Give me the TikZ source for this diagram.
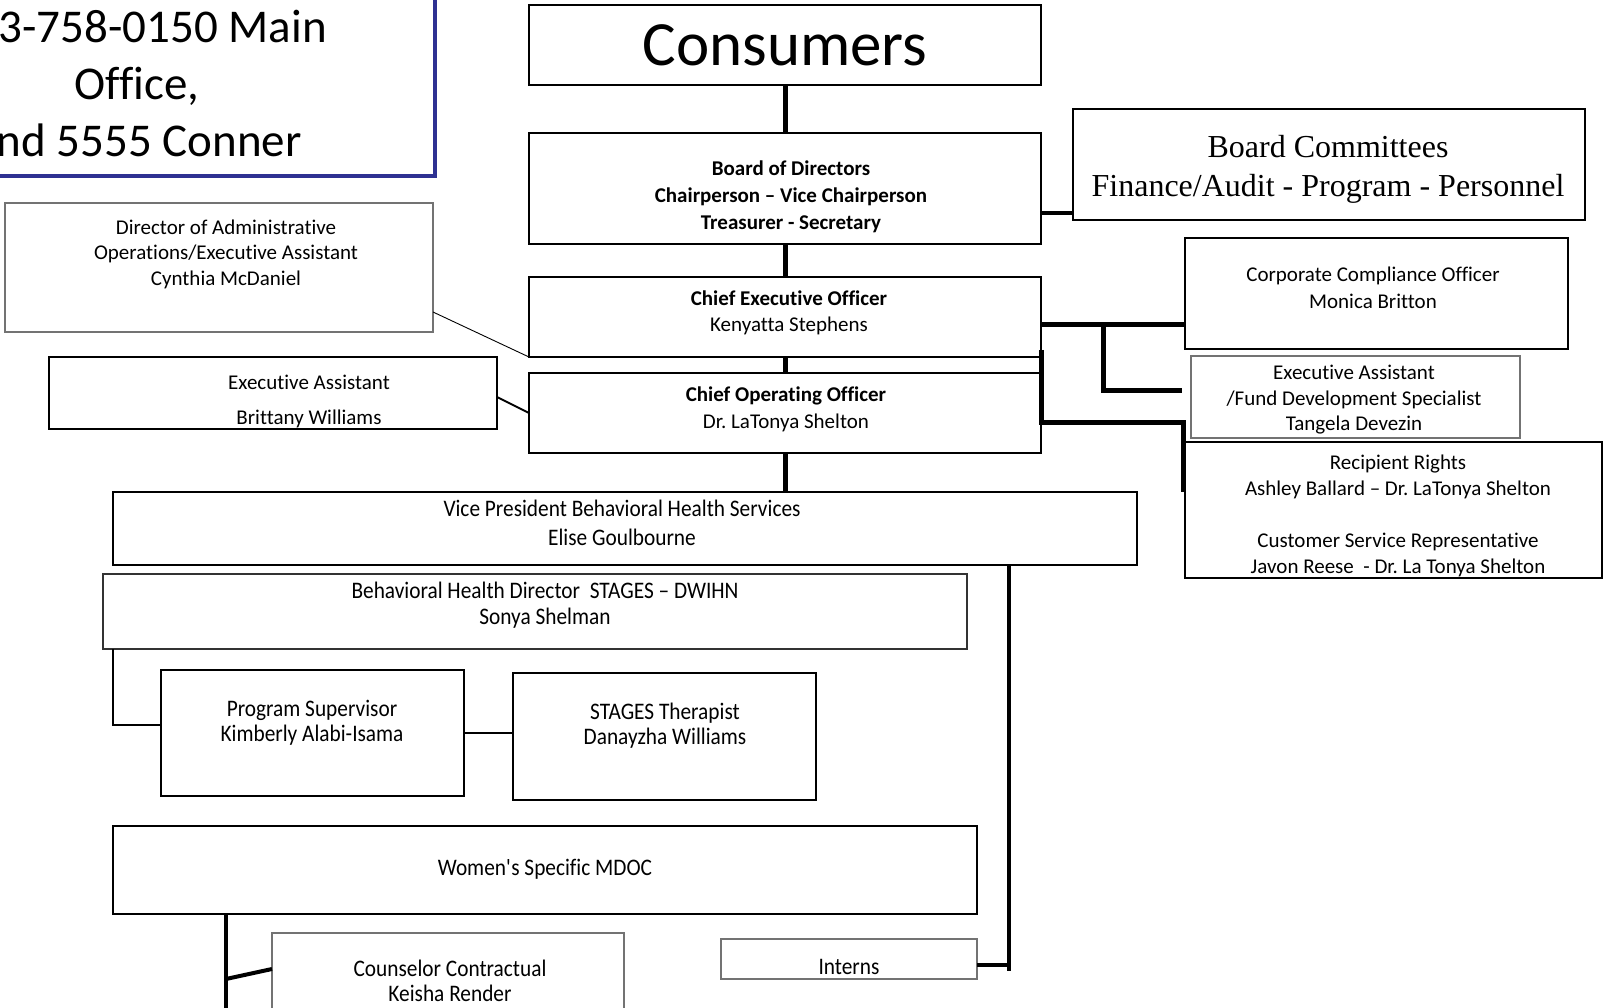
\documentclass[tikz,border=0pt]{standalone}
\usepackage{fontspec}
\setmainfont{Carlito}[Ligatures={TeX,NoCommon}]
\newfontfamily\timesfont{Liberation Serif}
\newfontfamily\narrowfont{Carlito}[FakeStretch=0.9, Ligatures={TeX,NoCommon}]
\usetikzlibrary{calc}
\frenchspacing

\definecolor{frameblue}{RGB}{46,49,146}

\tikzset{
  box/.style={draw, line width=1.6pt, inner sep=0pt, outer sep=0pt, anchor=north west},
  greybox/.style={box, draw=black!55, line width=1.2pt},
  txt/.style={align=center, inner sep=0pt, font=\fontsize{21}{25.5}\selectfont},
  ntxt/.style={align=center, inner sep=0pt, font=\narrowfont\fontsize{23.7}{26}\selectfont},
  bigline/.style={line width=5pt},
}

\begin{document}
\begin{tikzpicture}[x=1pt, y=-1pt]
  \clip (0,0) rectangle (1604,1008);
  \fill[white] (0,0) rectangle (1604,1008);

  % address box, cut at the page edge
  \node[box, draw=frameblue, line width=4pt, minimum width=495, minimum height=236] (addr) at (-60,-60) {};
  \node[anchor=base east, inner sep=0pt, font=\fontsize{47}{57}\selectfont] (addr1) at (327,43) {3-758-0150 Main};
  \node[anchor=base, inner sep=0pt, font=\fontsize{47}{57}\selectfont] (addr2) at (137,100) {Office,};
  \node[anchor=base east, inner sep=0pt, font=\fontsize{47}{57}\selectfont] (addr3) at (302,157) {nd 5555 Conner};

  % main column
  \node[box, minimum width=512, minimum height=80] (cons) at (529,5) {};
  \node[inner sep=0pt, font=\fontsize{63}{70}\selectfont] (cons-t) at (785,45) {Consumers};

  \node[box, minimum width=512, minimum height=111] (bod) at (529,133) {};
  \node[txt, font=\bfseries\fontsize{21}{27}\selectfont] (bod-t) at (791,197) {Board of Directors\\Chairperson – Vice Chairperson\\Treasurer - Secretary};

  \node[box, minimum width=512, minimum height=111] (comm) at (1073,109) {};
  \node[txt, font=\timesfont\fontsize{32}{39}\selectfont] (comm-t) at (1328,169) {Board Committees\\Finance/Audit - Program - Personnel};

  \node[box, minimum width=512, minimum height=80] (ceo) at (529,277) {};
  \node[txt] (ceo-t) at (789,313) {\textbf{Chief Executive Officer}\\Kenyatta Stephens};

  \node[box, minimum width=512, minimum height=80] (coo) at (529,373) {};
  \node[txt, font=\fontsize{21}{27}\selectfont] (coo-t) at (786,409) {\textbf{Chief Operating Officer}\\Dr. LaTonya Shelton};

  % left side
  \node[greybox, minimum width=428, minimum height=129] (dir) at (5,203) {};
  \node[txt] (dir-t) at (226,254) {Director of Administrative\\Operations/Executive Assistant\\Cynthia McDaniel};

  \node[box, minimum width=448, minimum height=72] (eal) at (49,357) {};
  \node[txt, font=\fontsize{21}{35}\selectfont] (eal-t) at (309,401) {Executive Assistant\\Brittany Williams};

  % right side
  \node[box, minimum width=383, minimum height=111] (comp) at (1185,238) {};
  \node[txt, font=\fontsize{21}{27.5}\selectfont] (comp-t) at (1373,288) {Corporate Compliance Officer\\Monica Britton};

  \node[greybox, minimum width=329, minimum height=82] (fund) at (1191,356) {};
  \node[txt] (fund-t) at (1354,400) {Executive Assistant\\/Fund Development Specialist\\Tangela Devezin};

  \node[box, minimum width=417, minimum height=136] (rr) at (1185,442) {};
  \node[txt, font=\fontsize{21}{26}\selectfont] (rr-t) at (1398,516) {Recipient Rights\\Ashley Ballard – Dr. LaTonya Shelton\\[0pt]\strut\\Customer Service Representative\\Javon Reese\ \ - Dr. La Tonya Shelton};

  % behavioral health
  \node[box, minimum width=1024, minimum height=73] (vp) at (113,492) {};
  \node[ntxt, font=\narrowfont\fontsize{23.7}{29}\selectfont] (vp-t) at (622,523) {Vice President Behavioral Health Services\\Elise Goulbourne};

  \node[box, draw=black!80, minimum width=864, minimum height=75] (bhd) at (103,574) {};
  \node[ntxt] (bhd-t) at (545,605) {Behavioral Health Director\ \ STAGES – DWIHN\\Sonya Shelman};

  \node[box, minimum width=303, minimum height=126] (ps) at (161,670) {};
  \node[ntxt, font=\narrowfont\fontsize{23.7}{25}\selectfont] (ps-t) at (312,723) {Program Supervisor\\Kimberly Alabi-Isama};

  \node[box, minimum width=303, minimum height=127] (th) at (513,673) {};
  \node[ntxt, font=\narrowfont\fontsize{23.7}{25}\selectfont] (th-t) at (665,726) {STAGES Therapist\\Danayzha Williams};

  \node[box, minimum width=864, minimum height=88] (mdoc) at (113,826) {};
  \node[ntxt] (mdoc-t) at (545,869) {Women\textquotesingle s Specific MDOC};

  \node[greybox, minimum width=352, minimum height=100] (cc) at (272,933) {};
  \node[ntxt, font=\narrowfont\fontsize{23.7}{25}\selectfont] (cc-t) at (450,981) {Counselor Contractual\\Keisha Render};

  \node[greybox, minimum width=256, minimum height=40] (int) at (721,939) {};
  \node[ntxt] (int-t) at (849,967) {Interns};

  % connectors
  \draw[bigline] (cons.south) -- (bod.north);
  \draw[line width=4pt] ($(bod.south east)+(0,-31)$) -- ($(comm.south west)+(0,-7)$);
  \draw[bigline] (bod.south) -- (ceo.north);
  \draw[bigline] (ceo.south) -- (coo.north);
  \draw[bigline] (coo.south) -- (coo.south |- vp.north);
  \draw[line width=0.9pt] ($(dir.south east)+(0,-20)$) -- (ceo.south west);
  \draw[line width=1.8pt] ($(eal.east)+(0,4)$) -- (coo.west);

  \draw[bigline] ($(ceo.east)+(0,8)$) coordinate (ceojoin) -- (ceojoin -| comp.west);
  \draw[bigline] ($(ceojoin)+(62,0)$) |- ($(fund.west)+(-9,-7)$);
  \draw[bigline] ($(ceo.south east)+(0,-7)$) |- ($(rr.north west)+(-2,-20)$) -- ++(0,70);

  \draw[line width=3.5pt] ($(vp.south west)+(896,0)$) coordinate (vpdrop) -- ++(0,406);
  \draw[line width=3.5pt] ($(int.east)+(0,6)$) -- ($(vpdrop)+(0,400)$);
  \draw[line width=1.5pt] ($(bhd.south west)+(10,0)$) |- ($(ps.west)+(0,-8)$);
  \draw[line width=2pt] (ps.east) -- (ps.east -| th.west);
  \draw[line width=4pt] ($(mdoc.south west)+(113,0)$) coordinate (mdrop) -- ++(0,100);
  \draw[line width=4pt] ($(mdrop)+(0,65)$) -- ($(cc.north west)+(0,36)$);
\end{tikzpicture}
\end{document}
